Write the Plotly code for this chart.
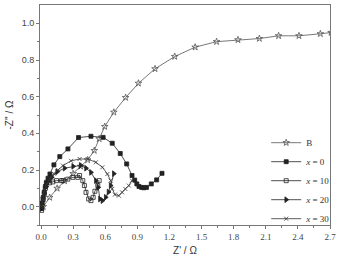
import plotly.graph_objects as go

# Series data (Z' , -Z'')
b_x = [0.02, 0.08, 0.15, 0.22, 0.30, 0.37, 0.435, 0.497, 0.543, 0.595, 0.68, 0.79, 0.91, 1.065, 1.249, 1.44, 1.64, 1.84, 2.04, 2.22, 2.41, 2.61, 2.71]
b_y = [0.0, 0.05, 0.10, 0.14, 0.18, 0.22, 0.255, 0.306, 0.37, 0.437, 0.515, 0.595, 0.673, 0.752, 0.819, 0.87, 0.90, 0.91, 0.917, 0.932, 0.932, 0.943, 0.95]

x0_x = [0.005, 0.01, 0.02, 0.03, 0.04, 0.05, 0.065, 0.083, 0.12, 0.175, 0.251, 0.35, 0.466, 0.58, 0.665, 0.74, 0.80, 0.85, 0.875, 0.895, 0.915, 0.94, 0.96, 0.985, 1.03, 1.08, 1.13]
x0_y = [-0.01, 0.02, 0.05, 0.08, 0.11, 0.13, 0.155, 0.178, 0.228, 0.273, 0.315, 0.377, 0.384, 0.378, 0.346, 0.29, 0.233, 0.17, 0.145, 0.124, 0.11, 0.105, 0.103, 0.105, 0.124, 0.146, 0.182]

x10_x = [0.005, 0.01, 0.02, 0.03, 0.04, 0.052, 0.08, 0.11, 0.144, 0.19, 0.205, 0.25, 0.297, 0.343, 0.36, 0.39, 0.405, 0.42, 0.445, 0.466, 0.487, 0.503, 0.53, 0.543]
x10_y = [-0.02, 0.01, 0.04, 0.07, 0.10, 0.133, 0.13, 0.135, 0.142, 0.142, 0.142, 0.15, 0.16, 0.16, 0.17, 0.142, 0.115, 0.078, 0.042, 0.033, 0.051, 0.084, 0.115, 0.142]

x20_x = [0.005, 0.015, 0.03, 0.05, 0.07, 0.10, 0.15, 0.22, 0.30, 0.37, 0.42, 0.466, 0.512, 0.534, 0.55, 0.573, 0.604, 0.63, 0.65, 0.68]
x20_y = [-0.01, 0.03, 0.07, 0.11, 0.14, 0.16, 0.19, 0.21, 0.22, 0.225, 0.21, 0.187, 0.142, 0.105, 0.042, 0.033, 0.051, 0.08, 0.115, 0.18]

x30_x = [0.005, 0.015, 0.03, 0.05, 0.08, 0.12, 0.16, 0.205, 0.28, 0.36, 0.435, 0.512, 0.573, 0.62, 0.65, 0.665, 0.69, 0.727, 0.757, 0.787, 0.82, 0.85]
x30_y = [0.0, 0.04, 0.08, 0.12, 0.15, 0.18, 0.20, 0.224, 0.25, 0.26, 0.26, 0.242, 0.215, 0.178, 0.142, 0.097, 0.066, 0.06, 0.078, 0.097, 0.115, 0.142]

x_ticks = [0.0, 0.3, 0.6, 0.9, 1.2, 1.5, 1.8, 2.1, 2.4, 2.7]
y_ticks = [0.0, 0.2, 0.4, 0.6, 0.8, 1.0]

series = [
    ("B", b_x, b_y, "star-open", 5, "#555555"),
    ("<i>x</i> = 0", x0_x, x0_y, "square", 4, "#222222"),
    ("<i>x</i> = 10", x10_x, x10_y, "square-open", 4, "#222222"),
    ("<i>x</i> = 20", x20_x, x20_y, "triangle-right", 5, "#222222"),
    ("<i>x</i> = 30", x30_x, x30_y, "x-thin-open", 4, "#333333"),
]

fig = go.Figure()
for name, xs, ys, sym, sz, col in series:
    fig.add_trace(go.Scatter(
        x=xs, y=ys, mode="lines+markers", name=name,
        line=dict(color=col, width=0.8),
        marker=dict(symbol=sym, size=sz, color=col, line=dict(color=col, width=0.8)),
    ))

axis_common = dict(
    showline=True, linecolor="#777777", linewidth=1, mirror=True,
    ticks="outside", ticklen=3, tickcolor="#777777",
    showgrid=False, zeroline=False,
    minor=dict(ticks="outside", ticklen=2, tickcolor="#777777"),
)

fig.update_layout(
    width=340, height=263,
    margin=dict(l=40, r=4, t=5, b=38),
    paper_bgcolor="white", plot_bgcolor="white",
    showlegend=True,
    legend=dict(x=0.78, y=0.44, xanchor="left", yanchor="top",
                bgcolor="rgba(0,0,0,0)", font=dict(family="Liberation Serif", size=9, color="#333333"),
                tracegroupgap=0, itemwidth=30),
    xaxis=dict(range=[-0.01, 2.7], tickvals=x_ticks, ticktext=[f"{v:.1f}" for v in x_ticks],
               tickfont=dict(family="Liberation Serif", size=9, color="#444444"),
               title=dict(text="Z' / Ω", font=dict(family="Liberation Sans", size=10, color="#333333"), standoff=6),
               **axis_common),
    yaxis=dict(range=[-0.1, 1.1], tickvals=y_ticks, ticktext=[f"{v:.1f}" for v in y_ticks],
               tickfont=dict(family="Liberation Sans", size=9, color="#444444"),
               title=dict(text="-Z'' / Ω", font=dict(family="Liberation Sans", size=10, color="#333333"), standoff=6),
               **axis_common),
)
fig.update_xaxes(minor=dict(tickvals=[0.15 + 0.3 * i for i in range(9)]))
fig.update_yaxes(minor=dict(tickvals=[-0.1, 0.1, 0.3, 0.5, 0.7, 0.9]))

fig.write_html("out.html")
